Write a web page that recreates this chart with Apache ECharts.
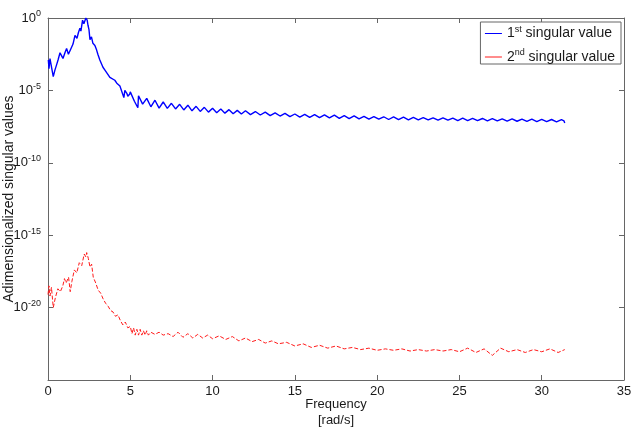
<!DOCTYPE html>
<html>
<head>
<meta charset="utf-8">
<script src="https://cdn.jsdelivr.net/npm/echarts@6/dist/echarts.min.js"></script>
<style>
  html, body { margin: 0; padding: 0; background: #fff; }
  #chart { width: 633px; height: 428px; }
</style>
</head>
<body>
<div id="chart"></div>
<script>
// frequency [rad/s] and log10 of the singular value
const freq1 = [
  0.02, 0.06, 0.12, 0.21, 0.32, 0.42, 0.53, 0.61, 0.73, 0.82, 0.91, 1.03, 1.13, 1.24, 1.33,
  1.44, 1.52, 1.64, 1.76, 1.85, 1.94, 2.0, 2.1, 2.18, 2.24, 2.3, 2.38, 2.43, 2.49, 2.55,
  2.64, 2.73, 2.85, 2.95, 3.03, 3.15, 3.24, 3.34, 3.46, 3.58, 3.76, 3.88, 4.06, 4.18, 4.24,
  4.37, 4.49, 4.61, 4.67, 4.79, 4.85, 4.97,
  5.0, 5.25, 5.46, 5.5, 5.75, 6.0, 6.25, 6.5, 6.75, 7.0, 7.25, 7.5, 7.75, 8.0, 8.25, 8.5,
  8.75, 9.0, 9.25, 9.5, 9.75, 10.0, 10.25, 10.5, 10.75, 11.0, 11.25, 11.5, 11.75, 12.0,
  12.3, 12.6, 12.9, 13.2, 13.5, 13.8, 14.1, 14.4, 14.7, 15.0, 15.3, 15.6, 15.9, 16.2, 16.5,
  16.8, 17.1, 17.4, 17.7, 18.0, 18.3, 18.6, 18.9, 19.2, 19.5, 19.8, 20.1, 20.4, 20.7, 21.0,
  21.3, 21.6, 21.9, 22.2, 22.5, 22.8, 23.1, 23.4, 23.7, 24.0, 24.3, 24.6, 24.9, 25.2, 25.5,
  25.8, 26.1, 26.4, 26.7, 27.0, 27.3, 27.6, 27.9, 28.2, 28.5, 28.8, 29.1, 29.4, 29.7, 30.0,
  30.3, 30.6, 30.9, 31.2, 31.35, 31.4
];
const logSv1 = [
  -2.9, -3.5, -2.8, -2.75, -4.05, -3.6, -3.2, -2.9, -2.4, -2.6, -2.8, -2.4, -2.1, -2.5, -2.4,
  -2.0, -1.8, -1.2, -1.4, -1.0, -0.7, -0.9, -0.15, -0.4, -0.5, 0.0, -0.15, -0.5, -0.8, -1.5,
  -1.3, -1.75, -1.9, -2.2, -2.5, -2.9, -2.8, -3.4, -3.6, -3.7, -4.1, -4.0, -4.3, -4.5, -4.4,
  -4.7, -4.8, -5.5, -5.0, -5.2, -5.4, -5.25,
  -5.10, -5.75, -6.2, -5.37, -5.95, -5.55, -6.13, -5.68, -6.22, -5.80, -6.24, -5.89, -6.28, -5.96, -6.35, -6.02,
  -6.41, -6.10, -6.45, -6.17, -6.50, -6.24, -6.54, -6.29, -6.57, -6.33, -6.61, -6.38, -6.63, -6.41,
  -6.67, -6.46, -6.70, -6.50, -6.74, -6.55, -6.77, -6.59, -6.81, -6.63, -6.84, -6.65, -6.86, -6.67, -6.88,
  -6.69, -6.90, -6.71, -6.93, -6.74, -6.95, -6.76, -6.97, -6.79, -6.98, -6.81, -6.99, -6.82, -7.01, -6.83,
  -7.02, -6.84, -7.03, -6.86, -7.03, -6.88, -7.04, -6.89, -7.05, -6.90, -7.06, -6.91, -7.08, -6.92, -7.08,
  -6.93, -7.09, -6.94, -7.10, -6.95, -7.11, -6.96, -7.12, -6.97, -7.13, -6.98, -7.14, -6.99, -7.15, -7.00,
  -7.16, -7.01, -7.17, -7.02, -7.10, -7.25
];

const freq2 = [
  0.0, 0.06, 0.12, 0.21, 0.32, 0.45, 0.6, 0.75, 0.9, 1.0, 1.1, 1.25, 1.35, 1.45, 1.6,
  1.75, 1.9, 2.05, 2.2, 2.3, 2.35, 2.45, 2.55, 2.65, 2.75, 2.9, 3.05, 3.2, 3.35, 3.5,
  3.65, 3.8, 3.95, 4.1, 4.25, 4.4, 4.55, 4.7, 4.85, 5.0, 5.1, 5.2, 5.3, 5.4, 5.5,
  5.6, 5.7, 5.8, 5.9, 6.0, 6.1, 6.25, 6.5, 6.75, 7.0, 7.3, 7.6, 7.9, 8.2, 8.5,
  8.8, 9.1, 9.4, 9.7, 10.0, 10.4, 10.8, 11.2, 11.6, 12.0, 12.4, 12.8, 13.2, 13.6, 14.0,
  14.5, 15.0, 15.5, 16.0, 16.5, 17.0, 17.5, 18.0, 18.5, 19.0, 19.5, 20.0, 20.5, 21.0, 21.5,
  22.0, 22.5, 23.0, 23.5, 24.0, 24.5, 25.0, 25.5, 26.0, 26.5, 27.0, 27.5, 28.0, 28.5, 29.0,
  29.5, 30.0, 30.5, 31.0, 31.4
];
const logSv2 = [
  -19.1, -18.5, -19.2, -18.6, -20.0, -19.3, -18.7, -18.9, -18.5, -18.0, -18.3, -17.9, -18.9, -18.2, -17.4,
  -17.6, -16.9, -17.1, -16.3, -16.5, -16.2, -16.6, -17.2, -17.0, -17.9, -18.3, -18.8, -19.0, -19.4, -19.7,
  -19.9, -20.2, -20.3, -20.6, -20.5, -20.9, -21.2, -21.0, -21.4, -21.3, -21.8, -21.4, -21.9, -21.5, -21.9,
  -21.5, -21.9, -21.6, -21.9, -21.6, -21.9, -21.7, -21.85, -21.7, -21.9, -21.8, -22.0, -21.7, -22.05, -21.8,
  -22.1, -21.85, -22.1, -21.9, -22.15, -21.95, -22.2, -22.0, -22.3, -22.1, -22.35, -22.2, -22.45, -22.3, -22.5,
  -22.4, -22.65, -22.5, -22.75, -22.6, -22.8, -22.65, -22.85, -22.75, -22.9, -22.8, -22.95, -22.85, -22.95, -22.85,
  -23.0, -22.9, -23.0, -22.9, -23.0, -22.9, -23.05, -22.8, -23.1, -22.85, -23.3, -22.8, -23.05, -22.9, -23.1,
  -22.9, -23.05, -22.85, -23.1, -22.9
];

const xTicks = [0, 5, 10, 15, 20, 25, 30, 35];
const yDecades = [0, -5, -10, -15, -20, -25];

const toPairs = (xs, logs) => xs.map((x, i) => [x, Math.pow(10, logs[i])]);

const font = 'Liberation Sans, Arial, sans-serif';
const frame = '#666';
const ink = '#1a1a1a';
const blue = '#0000ff';
const red = '#ff1a1a';

const chart = echarts.init(document.getElementById('chart'));
chart.setOption({
    backgroundColor: '#fff',
    animation: false,
    grid: { left: 48, right: 9, top: 18, bottom: 48, containLabel: false, outerBoundsMode: 'none' },
    legend: {
        orient: 'vertical',
        right: 12,
        top: 22,
        backgroundColor: '#fff',
        borderColor: frame,
        borderWidth: 1,
        borderRadius: 0,
        padding: [3, 6, 0, 4],
        itemGap: 8,
        itemWidth: 17,
        itemHeight: 8,
        textStyle: {
            fontSize: 14,
            fontFamily: font,
            color: ink,
            rich: { sup: { fontSize: 9, fontFamily: font, color: ink, padding: [0, 0, 8, 0] } }
        },
        formatter: function (name) {
            return name === 'first' ? '1{sup|st} singular value' : '2{sup|nd} singular value';
        },
        data: [
            { name: 'first', lineStyle: { color: blue, width: 1, type: 'solid' }, itemStyle: { opacity: 0 } },
            { name: 'second', lineStyle: { color: red, width: 1, type: 'solid' }, itemStyle: { opacity: 0 } }
        ]
    },
    xAxis: [{
        type: 'value',
        min: xTicks[0],
        max: xTicks[xTicks.length - 1],
        interval: 5,
        name: 'Frequency\n[rad/s]',
        nameLocation: 'middle',
        nameGap: 16,
        nameMoveOverlap: false,
        nameTextStyle: { fontSize: 13, fontFamily: font, color: ink, lineHeight: 16, verticalAlign: 'top' },
        axisLine: { onZero: false, lineStyle: { color: frame } },
        axisTick: { inside: true, length: 5, lineStyle: { color: frame } },
        axisLabel: { fontSize: 13, fontFamily: font, color: ink, margin: 5 },
        splitLine: { show: false }
    }, {
        type: 'value',
        position: 'top',
        min: xTicks[0],
        max: xTicks[xTicks.length - 1],
        interval: 5,
        axisLine: { show: true, onZero: false, lineStyle: { color: frame } },
        axisTick: { show: true, inside: true, length: 5, lineStyle: { color: frame } },
        axisLabel: { show: false },
        splitLine: { show: false }
    }],
    yAxis: [{
        type: 'log',
        logBase: 10,
        min: Math.pow(10, yDecades[yDecades.length - 1]),
        max: Math.pow(10, yDecades[0]),
        interval: 5,
        name: 'Adimensionalized singular values',
        nameLocation: 'middle',
        nameGap: 32,
        nameRotate: 90,
        nameMoveOverlap: false,
        nameTextStyle: { fontSize: 14, fontFamily: font, color: ink },
        axisLine: { onZero: false, lineStyle: { color: frame } },
        axisTick: { inside: true, length: 5, lineStyle: { color: frame } },
        minorTick: { show: false },
        axisLabel: {
            fontSize: 13,
            fontFamily: font,
            color: ink,
            margin: 7,
            formatter: function (v) {
                return '10{sup|' + Math.round(Math.log10(v)) + '}';
            },
            rich: { sup: { fontSize: 9, fontFamily: font, color: ink, padding: [0, 0, 8, 0] } }
        },
        splitLine: { show: false }
    }, {
        type: 'log',
        logBase: 10,
        position: 'right',
        min: Math.pow(10, yDecades[yDecades.length - 1]),
        max: Math.pow(10, yDecades[0]),
        interval: 5,
        axisLine: { show: true, onZero: false, lineStyle: { color: frame } },
        axisTick: { show: true, inside: true, length: 5, lineStyle: { color: frame } },
        axisLabel: { show: false },
        splitLine: { show: false }
    }],
    series: [{
        name: 'first',
        type: 'line',
        symbol: 'none',
        data: toPairs(freq1, logSv1),
        lineStyle: { color: blue, width: 1.4 },
        itemStyle: { color: blue }
    }, {
        name: 'second',
        type: 'line',
        symbol: 'none',
        data: toPairs(freq2, logSv2),
        lineStyle: { color: red, width: 1, type: [4, 2] },
        itemStyle: { color: red }
    }]
});
</script>
</body>
</html>
